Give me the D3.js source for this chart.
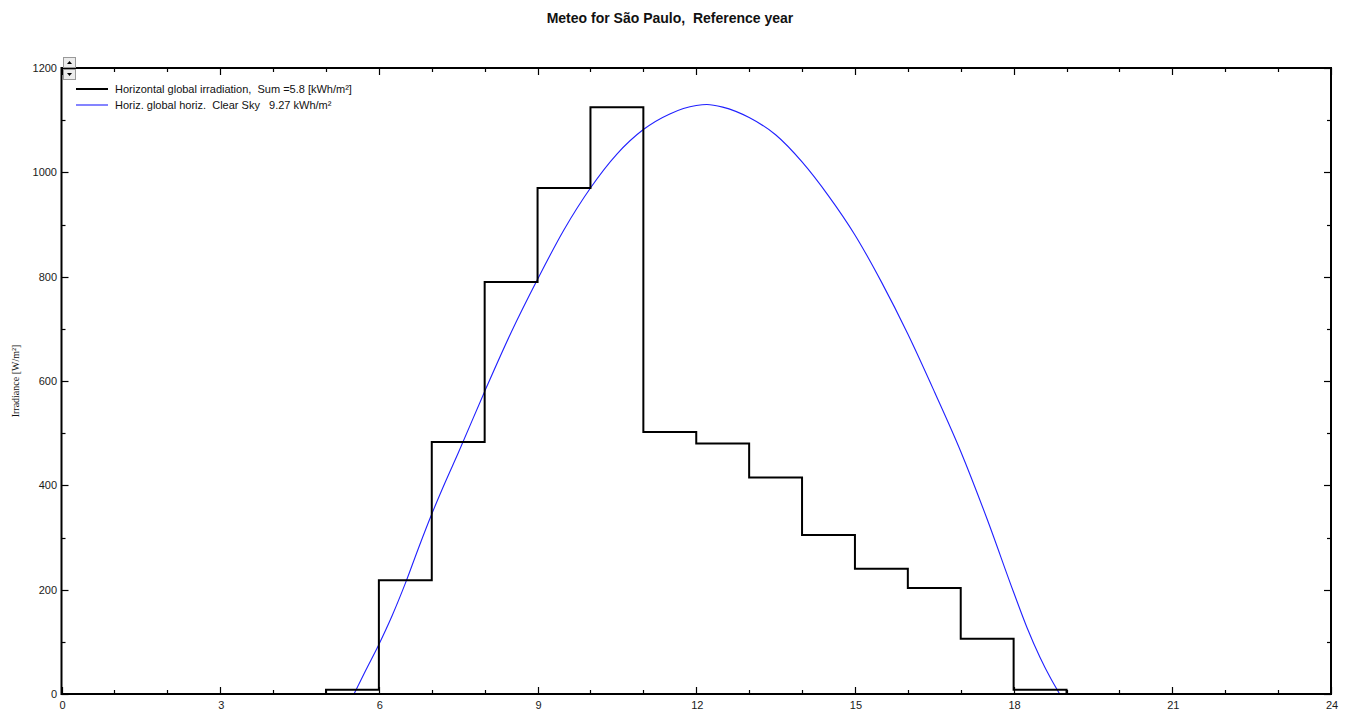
<!DOCTYPE html>
<html>
<head>
<meta charset="utf-8">
<script src="https://cdn.jsdelivr.net/npm/d3@7"></script>
<style>
  body { margin: 0; background: #fff; }
  svg { display: block; }
  svg text { white-space: pre; }
</style>
</head>
<body>
<div id="chart"></div>
<script>
// hourly measured irradiation (step starts at hour)
var stepHours  = [5, 6, 7, 8, 9, 10, 11, 12, 13, 14, 15, 16, 17, 18, 19];
var stepValues = [8, 218, 483, 790, 970, 1125, 502, 480, 415, 305, 240, 203, 106, 8, 0];

// clear sky curve
var skyHours  = [5.53, 5.75, 6.0, 6.25, 6.5, 6.75, 7.0, 7.25, 7.5, 8.0, 8.5, 9.0, 9.5, 10.0, 10.5, 11.0, 11.5, 12.0, 12.2, 12.5, 13.0, 13.5, 14.0, 14.5, 15.0, 15.5, 16.0, 16.5, 17.0, 17.5, 18.0, 18.25, 18.5, 18.7, 18.87];
var skyValues = [0, 45, 95, 150, 212, 280, 345, 405, 462, 580, 693, 795, 890, 970, 1035, 1082, 1112, 1128, 1130, 1125, 1105, 1072, 1020, 955, 880, 790, 690, 580, 465, 335, 195, 128, 70, 30, 0];

var xTicks = [0, 3, 6, 9, 12, 15, 18, 21, 24];
var yTicks = [0, 200, 400, 600, 800, 1000, 1200];

var legendLabels = ["Horizontal global irradiation,  Sum =5.8 [kWh/m\u00b2]", "Horiz. global horiz.  Clear Sky   9.27 kWh/m\u00b2"];

var width = 1348, height = 712;
var plotLeft = 61.5, plotRight = 1331, plotTop = 68, plotBottom = 694;

var svg = d3.select("#chart").append("svg")
    .attr("width", width)
    .attr("height", height)
    .style("font-family", "Arial, 'Liberation Sans', sans-serif");

var x = d3.scaleLinear().domain([0, 24]).range([plotLeft, plotRight]);
var y = d3.scaleLinear().domain([0, 1200]).range([plotBottom, plotTop]);

// title
svg.append("text")
    .attr("x", 670).attr("y", 23)
    .attr("text-anchor", "middle")
    .attr("font-size", "14px")
    .attr("font-weight", "bold")
    .attr("fill", "#111")
    .text("Meteo for S\u00e3o Paulo,  Reference year");

// y label
svg.append("text")
    .attr("transform", "translate(19,381) rotate(-90)")
    .attr("text-anchor", "middle")
    .attr("font-family", "'Liberation Serif', 'Times New Roman', serif")
    .attr("font-size", "10px")
    .attr("fill", "#111")
    .text("Irradiance [W/m\u00b2]");

// ticks (inward) - minor each hour / 100, major each 3h / 200
var minorX = d3.range(0, 25, 1);
var minorY = d3.range(0, 1201, 100);
var ticks = svg.append("g").attr("stroke", "#000").attr("stroke-width", 1.2);

minorX.forEach(function(h) {
    var len = (h % 3 === 0) ? 7 : 4;
    var px = Math.round(x(h)) + 0.5;
    ticks.append("line").attr("x1", px).attr("x2", px).attr("y1", plotBottom).attr("y2", plotBottom - len);
    ticks.append("line").attr("x1", px).attr("x2", px).attr("y1", plotTop).attr("y2", plotTop + len);
});
minorY.forEach(function(v) {
    var len = (v % 200 === 0) ? 7 : 4;
    var py = Math.round(y(v)) + 0.5;
    ticks.append("line").attr("x1", plotLeft).attr("x2", plotLeft + len).attr("y1", py).attr("y2", py);
    ticks.append("line").attr("x1", plotRight).attr("x2", plotRight - len).attr("y1", py).attr("y2", py);
});

// tick labels
svg.selectAll("text.xlab")
    .data(xTicks)
    .enter()
    .append("text")
    .attr("class", "xlab")
    .attr("x", function(d) { return x(d) + 1; })
    .attr("y", 709)
    .attr("text-anchor", "middle")
    .attr("font-size", "11px")
    .attr("fill", "#1a1a1a")
    .text(function(d) { return d; });

svg.selectAll("text.ylab")
    .data(yTicks)
    .enter()
    .append("text")
    .attr("class", "ylab")
    .attr("x", 57)
    .attr("y", function(d) { return y(d) + 4; })
    .attr("text-anchor", "end")
    .attr("font-size", "11px")
    .attr("fill", "#1a1a1a")
    .text(function(d) { return d; });

// clear sky curve
var skyData = skyHours.map(function(h, i) { return [h, skyValues[i]]; });
svg.append("path")
    .datum(skyData)
    .attr("fill", "none")
    .attr("stroke", "#2020ff")
    .attr("stroke-width", 1.1)
    .attr("d", d3.line()
        .x(function(d) { return x(d[0]); })
        .y(function(d) { return y(d[1]); })
        .curve(d3.curveMonotoneX));

// measured steps
var stepData = [[stepHours[0], 0]].concat(stepHours.map(function(h, i) { return [h, stepValues[i]]; }));
svg.append("path")
    .datum(stepData)
    .attr("fill", "none")
    .attr("stroke", "#000")
    .attr("stroke-width", 2)
    .attr("d", d3.line()
        .x(function(d) { return x(d[0]); })
        .y(function(d) { return y(d[1]); })
        .curve(d3.curveStepAfter));

// frame
svg.append("rect")
    .attr("x", plotLeft).attr("y", plotTop)
    .attr("width", plotRight - plotLeft).attr("height", plotBottom - plotTop)
    .attr("fill", "none")
    .attr("stroke", "#000")
    .attr("stroke-width", 2);

// legend
var legendColors = ["#000", "#2020ff"];
var legendWidths = [2, 1.1];
legendLabels.forEach(function(lab, i) {
    var ly = 89 + i * 16;
    svg.append("line")
        .attr("x1", 76).attr("x2", 108)
        .attr("y1", ly).attr("y2", ly)
        .attr("stroke", legendColors[i])
        .attr("stroke-width", legendWidths[i]);
    svg.append("text")
        .attr("x", 115).attr("y", ly + 4)
        .attr("font-size", "11px")
        .attr("fill", "#111")
        .text(lab);
});

// small scroll buttons
[[57, "up"], [69, "down"]].forEach(function(b) {
    var g = svg.append("g");
    g.append("rect")
        .attr("x", 63.5).attr("y", b[0] + 0.5)
        .attr("width", 12).attr("height", 10)
        .attr("fill", "#ececec")
        .attr("stroke", "#999");
    var cy = b[0] + 5.5;
    var pts = b[1] === "up"
        ? [[67, cy + 1.5], [72, cy + 1.5], [69.5, cy - 1.5]]
        : [[67, cy - 1.5], [72, cy - 1.5], [69.5, cy + 1.5]];
    g.append("polygon")
        .attr("points", pts.map(function(p) { return p.join(","); }).join(" "))
        .attr("fill", "#000");
});
</script>
</body>
</html>
